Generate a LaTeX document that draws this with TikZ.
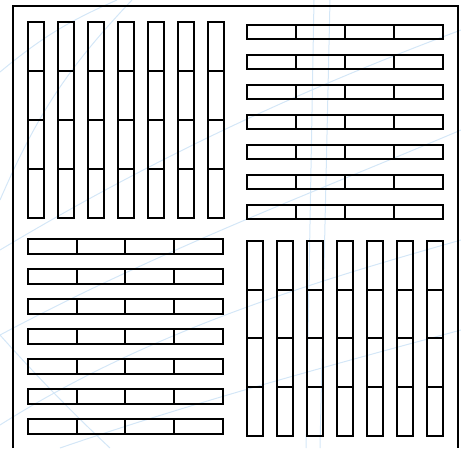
\documentclass[tikz,border=0pt]{standalone}
\usepackage{xcolor}
\usepackage{tikz}
\definecolor{sfondo}{RGB}{212,231,247}

\begin{document}
\begin{tikzpicture}[x=1pt, y=-1pt, line width=2pt]
    \useasboundingbox (0,0) rectangle (461,448);

    % Linee di sfondo
    \begin{scope}[sfondo, line width=1pt]
        \draw (0,72) to[bend left=8] (117,0);
        \draw (0,200) to[bend left=10] (132,0);
        \draw (0,250) .. controls (150,160) and (300,90) .. (461,30);
        \draw (0,335) .. controls (160,250) and (320,190) .. (461,130);
        \draw (0,425) .. controls (150,330) and (320,280) .. (461,240);
        \draw (60,448) .. controls (200,400) and (350,360) .. (461,330);
        \draw (0,335) .. controls (40,380) and (80,420) .. (110,448);
        \draw (314,0) -- (306,448);
        \draw (330,0) -- (320,448);
    \end{scope}

    % Cornice
    \draw (13,448) -- (13,6) -- (458,6) -- (458,448);

    % Quadrante in alto a sinistra
    \foreach \i in {0,...,6} {
        \draw (28+30*\i, 22.3) rectangle (43.7+30*\i, 218.3);
        \foreach \k in {1,2,3}
            \draw (28+30*\i, 22.3+49*\k) -- (43.7+30*\i, 22.3+49*\k);
    }

    % Quadrante in alto a destra
    \foreach \j in {0,...,6} {
        \draw (246.7, 25.3+30*\j) rectangle (442.7, 39.3+30*\j);
        \foreach \k in {1,2,3}
            \draw (246.7+49*\k, 25.3+30*\j) -- (246.7+49*\k, 39.3+30*\j);
    }

    % Quadrante in basso a sinistra
    \foreach \j in {0,...,6} {
        \draw (27.7, 239.3+30*\j) rectangle (222.7, 254+30*\j);
        \foreach \k in {1,2,3}
            \draw (27.7+48.8*\k, 239.3+30*\j) -- (27.7+48.8*\k, 254+30*\j);
    }

    % Quadrante in basso a destra
    \foreach \i in {0,...,6} {
        \draw (247+30*\i, 240.7) rectangle (263.3+30*\i, 436);
        \foreach \k in {1,2,3}
            \draw (247+30*\i, 240.7+48.8*\k) -- (263.3+30*\i, 240.7+48.8*\k);
    }
\end{tikzpicture}
\end{document}
